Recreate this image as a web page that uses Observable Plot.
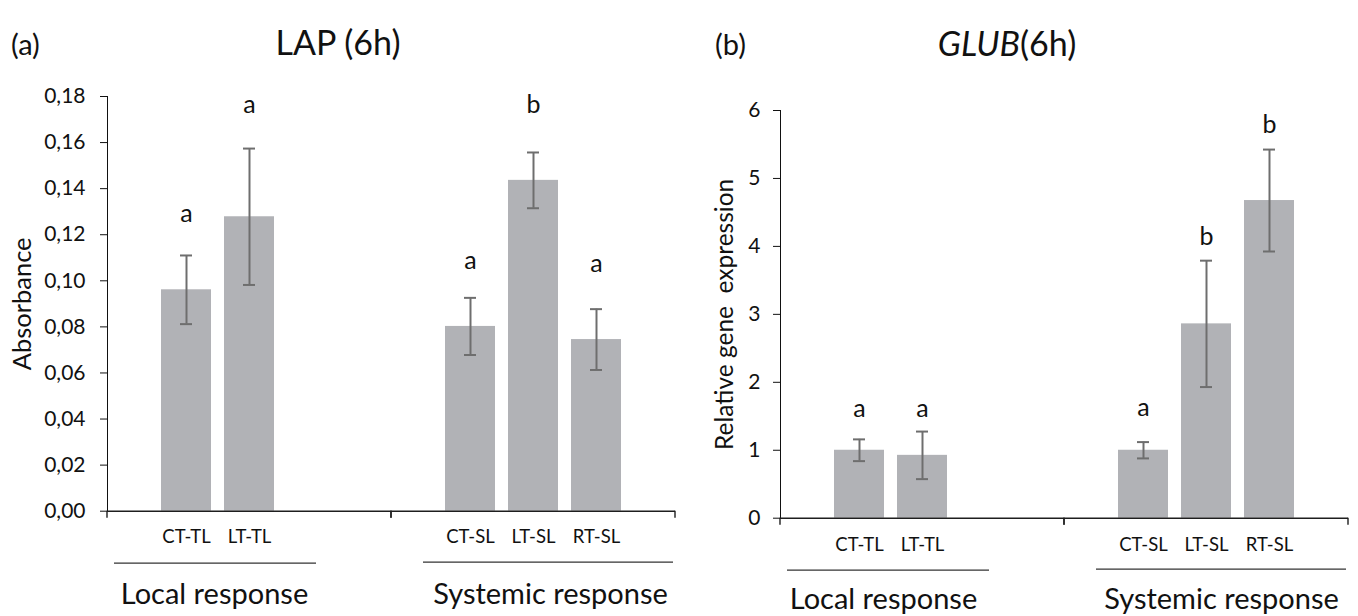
<!DOCTYPE html>
<html><head><meta charset="utf-8">
<script src="https://cdn.jsdelivr.net/npm/d3@7"></script>
<script src="https://cdn.jsdelivr.net/npm/@observablehq/plot@0.6"></script>
<style>
body{margin:0;background:#fff;font-family:Lato,"Open Sans",sans-serif;color:#111;}
#wrap{position:relative;width:1358px;height:616px;overflow:hidden;}
.panel{position:absolute;top:70px;}
.tag{position:absolute;font-size:29px;line-height:1;transform:translateY(-50%);}
.title{position:absolute;font-size:34px;line-height:1;transform:translate(-50%,-50%);white-space:nowrap;}
</style></head><body><div id="wrap">
<div class="tag" style="left:11px;top:43px">(a)</div>
<div class="title" style="left:338px;top:42px">LAP (6h)</div>
<div class="tag" style="left:715px;top:43px">(b)</div>
<div class="title" style="left:1007px;top:43px"><i>GLUB</i>(6h)</div>
<div class="panel" id="pa" style="left:0px"></div>
<div class="panel" id="pb" style="left:676px"></div>
</div>
<script>
// categories
const groups = ["Local", "Systemic"];
const groupLabels = ["Local response", "Systemic response"];
const treatments = ["CT", "LT", "RT"];
const barGroup = ["Local", "Local", "Systemic", "Systemic", "Systemic"];
const barTreat = ["CT", "LT", "CT", "LT", "RT"];
const barLabels = ["CT-TL", "LT-TL", "CT-SL", "LT-SL", "RT-SL"];

// (a) LAP (6h) absorbance
const lapMean = [0.0961, 0.1278, 0.0802, 0.1436, 0.0745];
const lapErr = [0.0149, 0.0296, 0.0124, 0.0121, 0.0132];
const lapLetters = ["a", "a", "a", "b", "a"];
const lapLetterY = [0.129, 0.1765, 0.1085, 0.1765, 0.1075];
const lapTicks = [0, 0.02, 0.04, 0.06, 0.08, 0.10, 0.12, 0.14, 0.16, 0.18];
const lapYLabel = "Absorbance";

// (b) GLUB (6h) relative gene expression
const glubMean = [1.0, 0.925, 1.0, 2.86, 4.675];
const glubErr = [0.16, 0.35, 0.12, 0.93, 0.75];
const glubLetters = ["a", "a", "a", "b", "b"];
const glubLetterY = [1.61, 1.61, 1.62, 4.14, 5.78];
const glubTicks = [0, 1, 2, 3, 4, 5, 6];
const glubYLabel = "Relative gene\u00a0 expression";

function panel(o) {
  const rows = barLabels.map((label, i) => ({
    group: barGroup[i], treat: barTreat[i], label,
    mean: o.mean[i], lo: o.mean[i] - o.err[i], hi: o.mean[i] + o.err[i],
    letter: o.letters[i], ly: o.letterY[i]
  }));
  const axisColor = "#1e1e1e";
  const errColor = "#6e6e6e";
  const boundaryTicks = (index, scales, values, dims) => {
    const {width, marginLeft, marginRight} = dims;
    const y0 = scales.y(0);
    return d3.create("svg:path")
      .attr("d", `M${marginLeft},${y0}v7M${width - marginRight},${y0}v7`)
      .attr("stroke", axisColor).attr("stroke-width", 1.4).attr("fill", "none").node();
  };
  return Plot.plot({
    width: o.width, height: 546,
    marginLeft: o.marginLeft, marginRight: o.marginRight,
    marginTop: o.marginTop, marginBottom: o.marginBottom,
    style: {background: "transparent", overflow: "visible", fontFamily: "Lato, 'Open Sans', sans-serif", fontSize: "21px", color: "#111"},
    fx: {domain: groups, padding: 0, axis: null},
    x: {domain: treatments, paddingInner: 0.214, paddingOuter: 0.86, axis: null},
    y: {domain: [o.ticks[0], o.ticks[o.ticks.length - 1]], ticks: o.ticks, tickFormat: o.tickFormat,
        tickSize: 7, tickPadding: o.tickPadding, line: true, label: null},
    marks: [
      Plot.barY(rows, {fx: "group", x: "treat", y: "mean", fill: "#b1b2b6"}),
      Plot.ruleX(rows, {fx: "group", x: "treat", y1: "lo", y2: "hi", stroke: errColor, strokeWidth: 2}),
      Plot.tickY(rows, {fx: "group", x: "treat", y: "lo", stroke: errColor, strokeWidth: 2, insetLeft: 19, insetRight: 19}),
      Plot.tickY(rows, {fx: "group", x: "treat", y: "hi", stroke: errColor, strokeWidth: 2, insetLeft: 19, insetRight: 19}),
      Plot.text(rows, {fx: "group", x: "treat", y: "ly", text: "letter", fontSize: 25, fill: "#111"}),
      Plot.ruleY([0], {stroke: axisColor, strokeWidth: 1.5}),
      boundaryTicks,
      Plot.text(rows, {fx: "group", x: "treat", text: "label", frameAnchor: "bottom", lineAnchor: "middle", dy: o.labelDy, fontSize: 18.5, fill: "#111"}),
      Plot.text([groups[0]], {fx: d => d, text: () => o.yLabel, frameAnchor: "left", textAnchor: "middle", lineAnchor: "middle", rotate: -90, dx: o.yLabelDx, fontSize: o.yLabelSize, fill: "#111"}),
      Plot.ruleY([groups[0]], {fx: d => d, y: () => 0, dy: 52, insetLeft: 7, insetRight: 75, stroke: "#333", strokeWidth: 1.2}),
      Plot.ruleY([groups[1]], {fx: d => d, y: () => 0, dy: 51, insetLeft: 32, insetRight: 2, stroke: "#333", strokeWidth: 1.2}),
      Plot.text([groups[0]], {fx: d => d, text: () => groupLabels[0], frameAnchor: "bottom", lineAnchor: "middle", dy: o.groupDy, dx: o.localDx, fontSize: 29, fill: "#111"}),
      Plot.text([groups[1]], {fx: d => d, text: () => groupLabels[1], frameAnchor: "bottom", lineAnchor: "middle", dy: o.groupDy, dx: o.sysDx, fontSize: 29, fill: "#111"})
    ]
  });
}

document.getElementById("pa").append(panel({
  mean: lapMean, err: lapErr, letters: lapLetters, letterY: lapLetterY, ticks: lapTicks,
  tickFormat: d => d3.format(".2f")(d).replace(".", ","), tickPadding: 15,
  width: 676, marginLeft: 107, marginRight: 1, marginTop: 26, marginBottom: 105.3,
  labelDy: 26, groupDy: 84, localDx: -35, sysDx: 17, yLabel: lapYLabel, yLabelDx: -85, yLabelSize: 25.5
}));
document.getElementById("pb").append(panel({
  mean: glubMean, err: glubErr, letters: glubLetters, letterY: glubLetterY, ticks: glubTicks,
  tickFormat: d => String(d), tickPadding: 13,
  width: 682, marginLeft: 104, marginRight: 10, marginTop: 40, marginBottom: 98.3,
  labelDy: 27, groupDy: 82, localDx: -39, sysDx: 15, yLabel: glubYLabel, yLabelDx: -55, yLabelSize: 24.5
}));
</script></body></html>
